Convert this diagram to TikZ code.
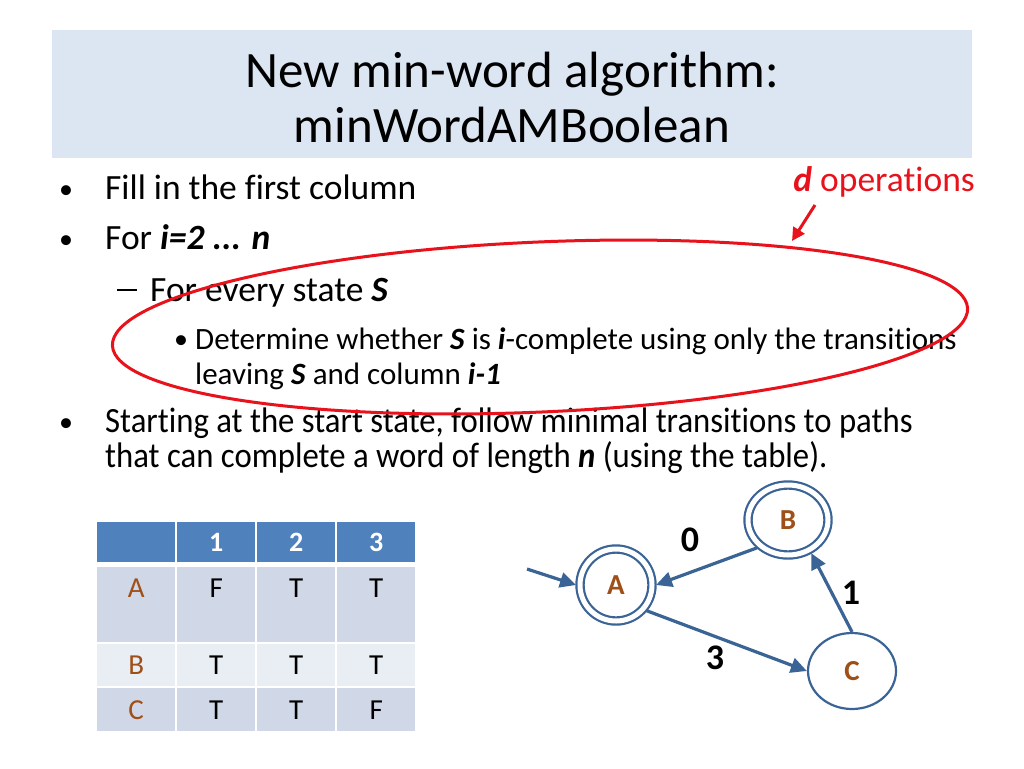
\documentclass[tikz,border=0pt]{standalone}
\usepackage{fontspec}
\setmainfont{Carlito}[Ligatures=NoCommon]
\usetikzlibrary{positioning, shapes.geometric, arrows.meta}

\definecolor{titlebg}{RGB}{220,230,242}
\definecolor{markred}{RGB}{232,18,28}
\definecolor{edgeblue}{RGB}{58,100,150}
\definecolor{statebrown}{RGB}{158,80,24}
\definecolor{headblue}{RGB}{79,129,189}
\definecolor{rowdark}{RGB}{208,216,232}
\definecolor{rowlight}{RGB}{233,237,244}

\tikzset{
  txt/.style={anchor=base west, inner sep=0pt, font=\fontsize{35.5}{42}\selectfont},
  bul/.style={txt, font=\fontsize{28}{34}\selectfont},
  subsubtxt/.style={txt, font=\fontsize{31}{36}\selectfont},
  titletxt/.style={anchor=base, inner sep=0pt, font=\fontsize{51}{60}\selectfont},
  cell/.style={anchor=north west, inner sep=0pt, minimum width=78},
  celltxt/.style={font=\fontsize{29}{34}\selectfont},
  state/.style={ellipse, draw=edgeblue, line width=2.2, inner sep=0pt,
    text=statebrown, font=\fontsize{29}{34}\selectfont\bfseries},
  accepting/.style={double=white, double distance=5, outer sep=4},
  trans/.style={draw=edgeblue, line width=3.2, -{Triangle[length=16pt, width=15pt]}},
  elabel/.style={font=\fontsize{36}{42}\selectfont\bfseries}
}
\newcommand{\squeeze}[1]{\scalebox{0.922}[1]{#1}}

\begin{document}
\begin{tikzpicture}[x=1pt, y=-1pt]
\useasboundingbox (0,0) rectangle (1024,768);
\fill[white] (0,0) rectangle (1024,768);

% title
\fill[titlebg] (52,30) rectangle (972,158);
\node[titletxt] (title1) at (512,87) {New min-word algorithm:};
\node[titletxt] (title2) at (512,142) {minWordAMBoolean};

% bullets
\node[bul] (b1) at (59,198) {\textbullet};
\node[txt] (fill) at (105,199) {Fill in the first column};
\node[bul] (b2) at (59,248) {\textbullet};
\node[txt] (loop) at (105,249) {For \textbf{\textit{i=2 ... n}}};
\node[txt] (dash) at (117,291) {\rule{20pt}{2.4pt}};
\node[txt] (every) at (150,301) {For every state \textbf{\textit{S}}};
\node[bul] (b3) at (174,348) {\textbullet};
\node[subsubtxt] (determine) at (195,349)
  {Determine whether \textbf{\textit{S}} is \textbf{\textit{i}}-complete using only the transitions};
\node[subsubtxt] (leaving) at (195,384)
  {leaving \textbf{\textit{S}} and column \textbf{\textit{i-1}}};
\node[bul] (b4) at (59,431) {\textbullet};
\node[txt] (start) at (105,432)
  {\squeeze{Starting at the start state, follow minimal transitions to paths}};
\node[txt] (word) at (105,467)
  {\squeeze{that can complete a word of length \textbf{\textit{n}} (using the table).}};

% red mark
\draw[markred, line width=3, rotate around={2.5:(540,327)}]
  (540,327) ellipse [x radius=428, y radius=85];
\node[txt, anchor=base east, text=markred] (ops) at (975,191)
  {\textbf{\textit{d}} operations};
\coordinate (opsfrom) at (815,205);
\coordinate (opsto) at (792,241);
\draw[markred, line width=3, -{Triangle[length=13pt, width=13pt]}] (opsfrom) -- (opsto);

% table
\foreach \x/\w [count=\c from 0] in {97/78,177/78,257/78,337/78} {
  \node[cell, fill=headblue, minimum width=\w, minimum height=40] (h\c) at (\x,522) {};
  \node[cell, fill=rowdark, minimum width=\w, minimum height=75] (ra\c) at (\x,567) {};
  \node[cell, fill=rowlight, minimum width=\w, minimum height=42] (rb\c) at (\x,644) {};
  \node[cell, fill=rowdark, minimum width=\w, minimum height=43] (rc\c) at (\x,688) {};
}
\foreach \c/\v in {1/1,2/2,3/3}
  \node[celltxt, text=white, font=\fontsize{28}{32}\selectfont\bfseries] at (h\c) {\v};
\foreach \c/\v in {0/A,1/F,2/T,3/T}
  \node[celltxt, anchor=center] at ([yshift=-21]ra\c.north) {\ifnum\c=0\color{statebrown}\fi\v};
\foreach \c/\v in {0/B,1/T,2/T,3/T}
  \node[celltxt] at (rb\c) {\ifnum\c=0\color{statebrown}\fi\v};
\foreach \c/\v in {0/C,1/T,2/T,3/F}
  \node[celltxt] at (rc\c) {\ifnum\c=0\color{statebrown}\fi\v};

% automaton
\node[state, accepting, minimum width=72, minimum height=72] (A) at (616,585) {A};
\node[state, accepting, minimum width=80, minimum height=70] (B) at (788,520) {B};
\node[state, minimum width=88, minimum height=76] (C) at (852,671) {C};
\coordinate (init) at (527,569);

\draw[trans] (init) -- (A.west);
\draw[trans] (B.222) -- (A.east);
\draw[trans] (C.north) -- (B.305);
\draw[trans] (A.320) -- (C.west);

\node[elabel] (l0) at (690,540) {0};
\node[elabel] (l1) at (851,593) {1};
\node[elabel] (l3) at (715,658) {3};
\end{tikzpicture}
\end{document}
